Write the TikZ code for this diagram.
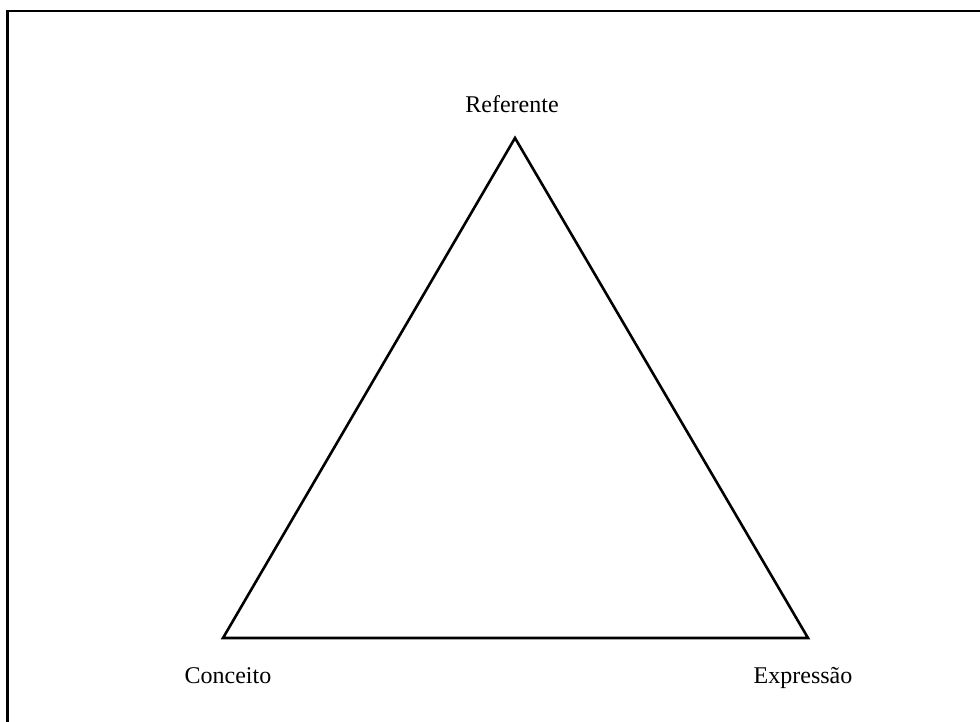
\documentclass[tikz,border=0pt]{standalone}
\usepackage{fontspec}
\setmainfont{Liberation Serif}
\usepackage{tikz}
\usetikzlibrary{positioning}

\begin{document}
\begin{tikzpicture}[x=1pt,y=-1pt,
  lbl/.style={font=\fontsize{24}{28}\selectfont,anchor=base,inner sep=0pt}]
  \useasboundingbox (0,0) rectangle (980,722);
  \draw[line width=2.6pt] (7.5,722)--(7.5,11)--(980,11);
  \coordinate (ref) at (515,138);
  \coordinate (con) at (223,638);
  \coordinate (exp) at (808,638);
  \draw[line width=2.6pt,line join=miter] (con)--(ref)--(exp)--cycle;
  \node[lbl] (referente) at (512,113) {Referente};
  \node[lbl] (conceito) at (228,683) {Conceito};
  \node[lbl] (expressao) at (803,683) {Expressão};
\end{tikzpicture}
\end{document}
